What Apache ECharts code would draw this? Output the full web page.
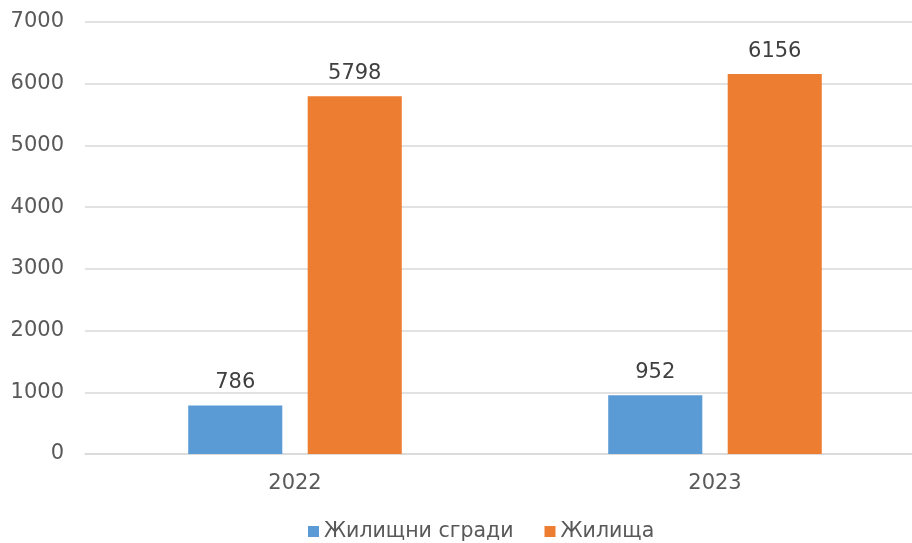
<!DOCTYPE html>
<html>
<head>
<meta charset="utf-8">
<script src="https://cdn.jsdelivr.net/npm/echarts@6/dist/echarts.min.js"></script>
<style>
  html, body { margin: 0; padding: 0; background: #fff; overflow: hidden; }
  #chart { width: 912px; height: 543px; }
</style>
</head>
<body>
<div id="chart"></div>
<script>
// данни
const years = ['2022', '2023'];
const buildings = [786, 952];
const dwellings = [5798, 6156];
const seriesNames = ['Жилищни сгради', 'Жилища'];

const font = 'DejaVu Sans';
const textColor = '#595959';

const chart = echarts.init(document.getElementById('chart'));
chart.setOption({
  animation: false,
  textStyle: { fontFamily: font },
  grid: { left: 85, right: -13, top: 22, bottom: 89, outerBoundsMode: 'none' },
  legend: {
    left: 303,
    top: 516,
    itemWidth: 11,
    itemHeight: 11,
    itemGap: 31,
    icon: 'rect',
    textStyle: { color: textColor, fontSize: 20.5, fontFamily: font },
    data: seriesNames
  },
  xAxis: {
    type: 'category',
    data: years,
    axisTick: { show: false },
    axisLine: { lineStyle: { color: '#d9d9d9', width: 1.5 } },
    axisLabel: { color: textColor, fontSize: 21, margin: 19 }
  },
  yAxis: {
    type: 'value',
    min: 0,
    max: 7000,
    interval: 1000,
    axisLabel: { color: textColor, fontSize: 21, margin: 21, formatter: v => String(v) },
    splitLine: { lineStyle: { color: '#d9d9d9', width: 1.5 } }
  },
  series: [
    {
      name: seriesNames[0],
      type: 'bar',
      data: buildings,
      barWidth: '22.4%',
      barGap: '27%',
      itemStyle: { color: '#5b9bd5' },
      label: { show: true, position: 'top', color: '#404040', fontSize: 21, distance: 12 }
    },
    {
      name: seriesNames[1],
      type: 'bar',
      data: dwellings,
      barWidth: '22.4%',
      itemStyle: { color: '#ed7d31' },
      label: { show: true, position: 'top', color: '#404040', fontSize: 21, distance: 12 }
    }
  ]
});
</script>
</body>
</html>
